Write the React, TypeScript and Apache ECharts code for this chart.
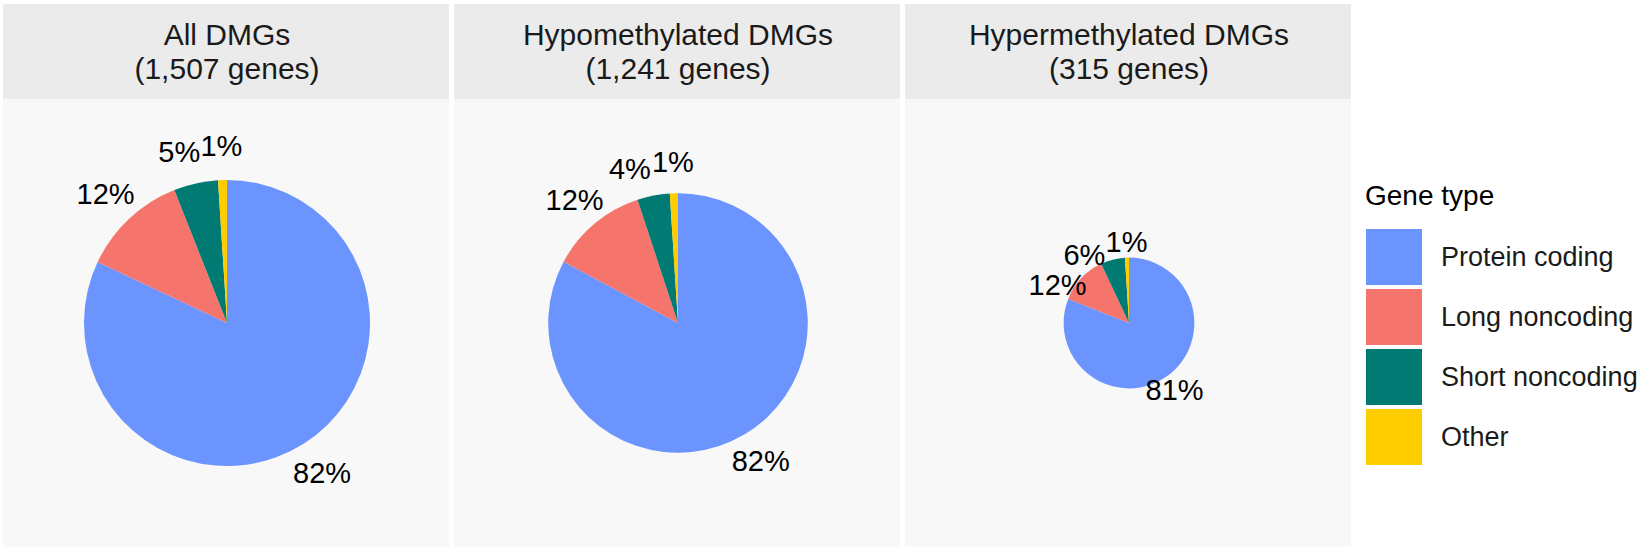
import React, { useEffect, useRef } from "react";
import * as echarts from "echarts";

// ---------- data ----------
const geneTypes = ["Protein coding", "Long noncoding", "Short noncoding", "Other"];
const panelTitles = ["All DMGs", "Hypomethylated DMGs", "Hypermethylated DMGs"];
const geneCounts = [1507, 1241, 315];
const allDmgPct = [82, 12, 5, 1];
const hypoDmgPct = [82, 12, 4, 1];
const hyperDmgPct = [81, 12, 6, 1];
const panelPct = [allDmgPct, hypoDmgPct, hyperDmgPct];
const legendTitle = "Gene type";

// ---------- styles / layout ----------
const colors = ["#6B94FF", "#F5756C", "#007A72", "#FFCC00"];
const FONT = "Liberation Sans, Arial, sans-serif";
const W = 1645;
const H = 551;
const PANEL_X0 = 3;
const PANEL_W = 446;
const PANEL_GAP = 5;
const HEADER_TOP = 4;
const HEADER_BOTTOM = 99;
const PANEL_BOTTOM = 547;
const MAX_R = 143;
const LABEL_R_FACTOR = 1.24;
const LABEL_FONT = 29;
const HEADER_FONT = 30;
const HEADER_LINE = 34;

function textWidth(t: string, size: number) {
  let w = 0;
  for (const ch of t) w += ch === "%" ? 0.889 : 0.556;
  return w * size;
}

function computeLabelPositions(values: number[], cx: number, cy: number, r: number) {
  const total = values.reduce((a, b) => a + b, 0);
  const R = r * LABEL_R_FACTOR;
  let cum = 0;
  const items = values.map((v) => {
    const mid = ((cum + v / 2) / total) * 360;
    cum += v;
    const text = v + "%";
    return { angle: mid, w: textWidth(text, LABEL_FONT), h: LABEL_FONT };
  });
  const pos = (a: number) => {
    const rad = (a * Math.PI) / 180;
    return [cx + R * Math.sin(rad), cy - R * Math.cos(rad)];
  };
  for (let i = items.length - 2; i >= 1; i--) {
    const next = items[i + 1];
    const [nx, ny] = pos(next.angle);
    let a = items[i].angle;
    let guard = 0;
    while (guard++ < 720) {
      const [x, y] = pos(a);
      const ox = Math.abs(x - nx) < (items[i].w + next.w) / 2;
      const oy = Math.abs(y - ny) < (items[i].h + next.h) / 2;
      if (!(ox && oy)) break;
      a -= 0.5;
    }
    items[i].angle = a;
  }
  return items.map((it) => {
    const [x, y] = pos(it.angle);
    return { x, y };
  });
}

export default function App() {
  const ref = useRef<HTMLDivElement>(null);

  useEffect(() => {
    document.body.style.margin = "0";
    if (!ref.current) return;
    const chart = echarts.init(ref.current, undefined, { renderer: "svg" });

    const maxCount = Math.max(...geneCounts);
    const cy = (HEADER_BOTTOM + PANEL_BOTTOM) / 2;
    const panels = panelTitles.map((t, i) => {
      const x0 = PANEL_X0 + i * (PANEL_W + PANEL_GAP);
      const cx = x0 + PANEL_W / 2 + 1;
      const r = MAX_R * Math.sqrt(geneCounts[i] / maxCount);
      return { x0, cx, r, labels: computeLabelPositions(panelPct[i], cx, cy, r) };
    });

    const graphics: any[] = [];
    panels.forEach((p) => {
      graphics.push({
        type: "rect",
        z: -10,
        shape: { x: p.x0, y: HEADER_TOP, width: PANEL_W, height: HEADER_BOTTOM - HEADER_TOP },
        style: { fill: "#EBEBEB" },
        silent: true,
      });
      graphics.push({
        type: "rect",
        z: -10,
        shape: { x: p.x0, y: HEADER_BOTTOM, width: PANEL_W, height: PANEL_BOTTOM - HEADER_BOTTOM },
        style: { fill: "#F8F8F8" },
        silent: true,
      });
    });
    graphics.push({
      type: "text",
      x: 1365,
      y: 195,
      style: {
        text: legendTitle,
        fontSize: 28,
        fontFamily: FONT,
        fill: "#000",
        verticalAlign: "middle",
        align: "left",
      },
    });

    const headerMid = (HEADER_TOP + HEADER_BOTTOM) / 2;
    const option: any = {
      animation: false,
      backgroundColor: "#fff",
      color: colors,
      title: panels.map((p, i) => ({
        text: `${panelTitles[i]}\n(${geneCounts[i].toLocaleString("en-US")} genes)`,
        left: p.cx,
        top: headerMid - HEADER_LINE,
        textAlign: "center",
        padding: 0,
        textStyle: {
          fontSize: HEADER_FONT,
          lineHeight: HEADER_LINE,
          fontWeight: "normal",
          fontFamily: FONT,
          color: "#1a1a1a",
        },
      })),
      graphic: { elements: graphics },
      legend: {
        data: geneTypes,
        orient: "vertical",
        left: 1366,
        top: 229,
        padding: 0,
        itemWidth: 56,
        itemHeight: 56,
        itemGap: 4,
        icon: "rect",
        selectedMode: false,
        textStyle: {
          fontSize: 27,
          fontFamily: FONT,
          color: "#1a1a1a",
          padding: [0, 0, 0, 14],
        },
      },
      series: panels.map((p, i) => ({
        type: "pie",
        name: panelTitles[i],
        center: [p.cx, cy],
        radius: p.r,
        startAngle: 90,
        clockwise: true,
        avoidLabelOverlap: false,
        itemStyle: { borderWidth: 0 },
        emphasis: { disabled: true },
        label: {
          show: true,
          position: "outside",
          formatter: "{c}%",
          fontSize: LABEL_FONT,
          fontFamily: FONT,
          color: "#000",
        },
        labelLine: { show: false },
        labelLayout: (params: any) => {
          const lp = panels[params.seriesIndex].labels[params.dataIndex];
          return { x: lp.x, y: lp.y, align: "center", verticalAlign: "middle" };
        },
        data: geneTypes.map((name, k) => ({ name, value: panelPct[i][k] })),
      })),
    };

    chart.setOption(option);
    return () => chart.dispose();
  }, []);

  return <div ref={ref} style={{ width: W, height: H }} />;
}
